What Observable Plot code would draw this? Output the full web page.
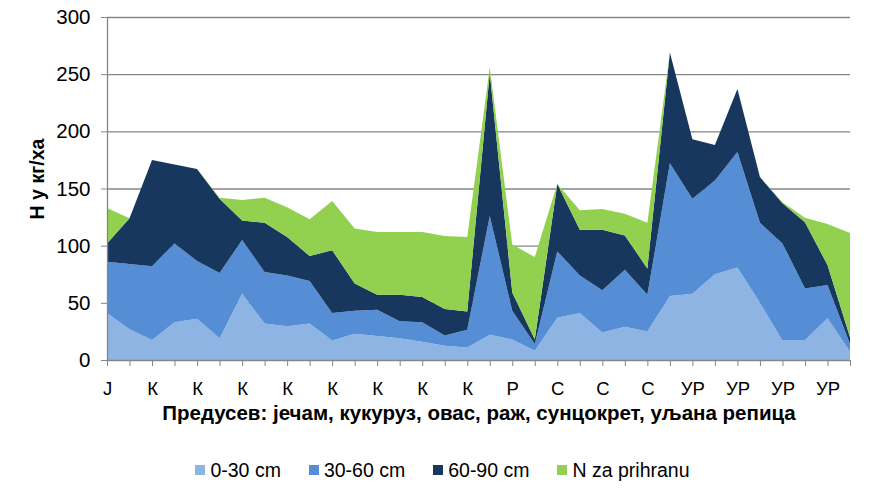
<!DOCTYPE html>
<html><head><meta charset="utf-8">
<script src="https://cdn.jsdelivr.net/npm/d3@7"></script>
<script src="https://cdn.jsdelivr.net/npm/@observablehq/plot@0.6"></script>
<style>
body{margin:0;background:#fff;font-family:"Liberation Sans",Arial,sans-serif;}
#legend{display:flex;justify-content:center;align-items:center;height:60px;font-size:19.5px;color:#000;padding-left:0px;}
.item{display:flex;align-items:center;margin:0 14px;}
.sw{width:10px;height:10px;margin-right:5px;}
</style></head><body><div id="chart"></div><div id="legend"></div>
<script>
const series = ["0-30 cm", "30-60 cm", "60-90 cm", "N za prihranu"];
const colors = ["#8EB4E3", "#558ED5", "#17375E", "#92D050"];
const light  = [41,27,17.5,33,36,19,58,32,29.5,32,17,23,21,19,16,12.5,11,22,18,8,37,41,24,29,25,56,58,75,81,50,17,17.5,36.5,7.5];
const medium = [45,57,64.5,69,50.5,57,47,45,44.5,37,24,20,23,15,17,9,15.5,104,25,6,58,33,37,50,32,116,83,82,101,70,85,45,29,6.5];
const dark   = [16,40,93,69,80.5,65,17,43,33.5,22,55,24,13,23,22,23,16,125,16,4,59,40,53,30,23,97,52,31,55,40,35,58,17.5,6];
const green  = [31,0,0,0,0,1,18,22,26,32,43,48,55,55,57,64,65,5,42,72,0,17,18,19,40,0,0,0,0,0,1,4,36,91];
const tickLabels = ["Ј","К","К","К","К","К","К","К","К","Р","С","С","С","УР","УР","УР","УР"];
const yTicks = [0, 50, 100, 150, 200, 250, 300];
const xTitle = "Предусев: јечам, кукуруз, овас, раж, сунцокрет, уљана репица";
const yTitle = "Н у кг/ха";

const values = [light, medium, dark, green];
const rows = [];
series.forEach((s, k) => values[k].forEach((v, i) => rows.push({i, s, v})));
const idx = d3.range(light.length);
const labelIdx = idx.filter(i => i % 2 === 0);

const chart = Plot.plot({
  width: 885, height: 440,
  marginLeft: 107, marginRight: 35, marginTop: 17, marginBottom: 80,
  style: {fontFamily: "Liberation Sans, Arial, sans-serif", background: "#fff", color: "#000"},
  x: {domain: [0, idx.length - 1]},
  y: {domain: [0, 300]},
  color: {domain: series, range: colors},
  marks: [
    Plot.ruleY(yTicks.filter(t => t > 0), {stroke: "#868686", strokeWidth: 1.3}),
    Plot.areaY(rows, {x: "i", y: "v", z: "s", fill: "s", order: series, curve: "linear"}),
    Plot.ruleY([0], {stroke: "#868686", strokeWidth: 1.3}),
    Plot.ruleX([0], {stroke: "#868686", strokeWidth: 1.3}),
    Plot.axisY({ticks: yTicks, tickSize: 6, tickPadding: 11, stroke: "#868686", fill: "#000", fontSize: 20.5, label: null}),
    Plot.axisX({ticks: idx, tickSize: 6, tickFormat: () => "", stroke: "#868686", label: null}),
    Plot.axisX({ticks: labelIdx, tickSize: 0, tickPadding: 21, tickFormat: i => tickLabels[i / 2], fill: "#000", fontSize: 18.5, label: null}),
    Plot.text([xTitle], {text: d => d, frameAnchor: "bottom", dy: 53, lineAnchor: "middle", textAnchor: "middle", fontWeight: "bold", fontSize: 20.5, fill: "#000"}),
    Plot.text([yTitle], {text: d => d, frameAnchor: "left", dx: -70, dy: -10, rotate: -90, lineAnchor: "middle", textAnchor: "middle", fontWeight: "bold", fontSize: 19.5, fill: "#000"})
  ]
});
document.getElementById("chart").appendChild(chart);

const legend = document.getElementById("legend");
series.forEach((s, k) => {
  const it = document.createElement("div");
  it.className = "item";
  const sw = document.createElement("span");
  sw.className = "sw";
  sw.style.background = colors[k];
  const t = document.createElement("span");
  t.textContent = s;
  it.appendChild(sw); it.appendChild(t);
  legend.appendChild(it);
});
</script></body></html>
